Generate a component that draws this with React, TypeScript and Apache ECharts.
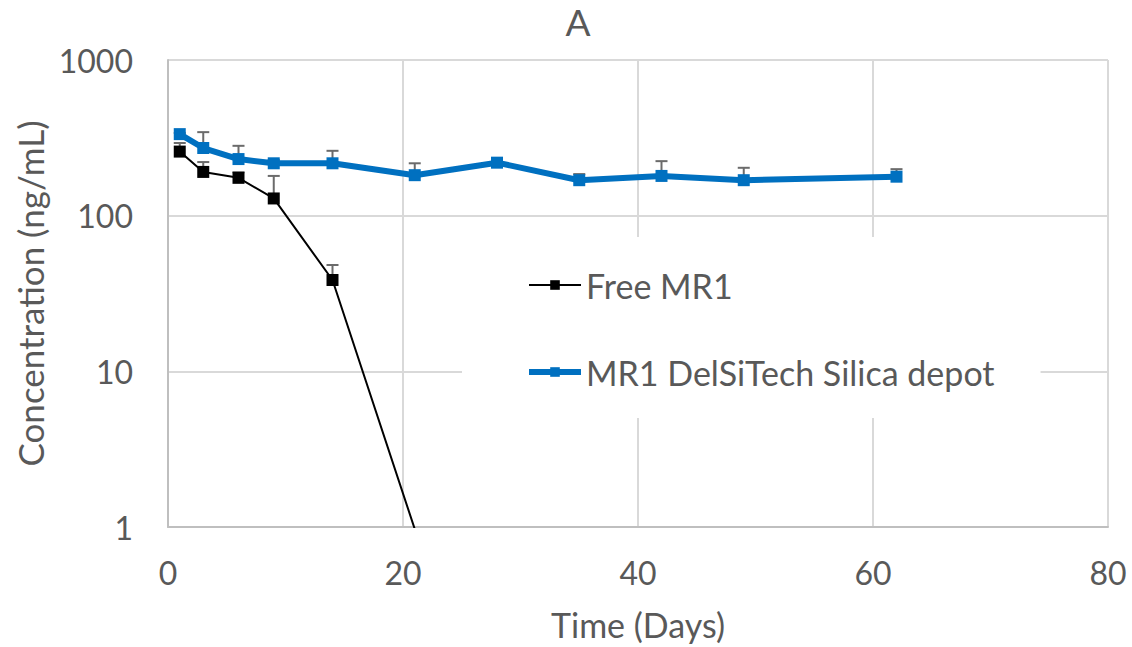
import React, { useEffect, useRef } from "react";
import * as echarts from "echarts";

const freeDays = [1, 3, 6, 9, 14, 21];
const freeValues = [258, 191, 175, 129, 38.6, 0.97];
const freeErrTop = [293, 221, 190, 180, 48.2, null];

const depotDays = [1, 3, 6, 9, 14, 21, 28, 35, 42, 49, 62];
const depotValues = [334, 272, 231, 217, 217, 182, 219, 169, 180, 169, 178];
const depotErrTop = [340, 344, 281, 228, 261, 217, 228, 185, 224, 203, 199];

const xTicks = [0, 20, 40, 60, 80];
const titleText = "A";
const xName = "Time (Days)";
const yName = "Concentration (ng/mL)";
const freeName = "Free MR1";
const depotName = "MR1 DelSiTech Silica depot";

const FONT = "Lato";
const TEXT = "#595959";

function errRender(params: any, api: any) {
  const x = api.value(0);
  const v = api.value(1);
  const top = api.value(2);
  if (top == null || isNaN(top)) return null;
  const p0 = api.coord([x, v]);
  const p1 = api.coord([x, top]);
  const hw = 6;
  const style = { stroke: "#6b6b6b", lineWidth: 2 };
  return {
    type: "group",
    children: [
      { type: "line", shape: { x1: p0[0], y1: p0[1], x2: p1[0], y2: p1[1] }, style },
      { type: "line", shape: { x1: p1[0] - hw, y1: p1[1], x2: p1[0] + hw, y2: p1[1] }, style },
    ],
  };
}

export default function App() {
  const ref = useRef<HTMLDivElement>(null);
  useEffect(() => {
    if (!ref.current) return;
    const chart = echarts.init(ref.current, null, { renderer: "svg" });
    const freeData = freeDays.map((d, i) => {
      const item: any = { value: [d, freeValues[i]] };
      if (freeValues[i] < 1) item.symbol = "none";
      return item;
    });
    const depotData = depotDays.map((d, i) => [d, depotValues[i]]);
    const freeErr = freeDays
      .map((d, i) => [d, freeValues[i], freeErrTop[i]])
      .filter((r) => r[2] != null);
    const depotErr = depotDays.map((d, i) => [d, depotValues[i], depotErrTop[i]]);

    chart.setOption({
      animation: false,
      backgroundColor: "#ffffff",
      graphic: [
        {
          type: "text",
          x: 578,
          y: 3,
          style: {
            text: titleText,
            textAlign: "center",
            textVerticalAlign: "top",
            fontSize: 37,
            fontFamily: FONT,
            fill: TEXT,
          },
        },
      ],
      grid: { left: 168, top: 60, right: 24, bottom: 120, containLabel: false },
      legend: {
        orient: "vertical",
        left: 462,
        top: 237,
        padding: [31, 46, 29, 64],
        backgroundColor: "#ffffff",
        itemWidth: 52,
        itemHeight: 12,
        itemGap: 53,
        lineStyle: { width: "inherit" },
        textStyle: { fontSize: 34, fontFamily: FONT, color: TEXT, lineHeight: 34 },
        data: [freeName, depotName],
      },
      xAxis: {
        type: "value",
        min: xTicks[0],
        max: xTicks[xTicks.length - 1],
        interval: 20,
        name: xName,
        nameLocation: "middle",
        nameGap: 80,
        nameTextStyle: { fontSize: 34, fontFamily: FONT, color: TEXT },
        axisLine: { show: true, lineStyle: { color: "#bfbfbf", width: 2 } },
        axisTick: { show: false },
        axisLabel: { fontSize: 32, fontFamily: FONT, color: TEXT, margin: 29 },
        splitLine: { show: true, lineStyle: { color: "#d9d9d9", width: 2 } },
      },
      yAxis: {
        type: "log",
        logBase: 10,
        min: 1,
        max: 1000,
        name: yName,
        nameLocation: "middle",
        nameGap: 118,
        nameTextStyle: { fontSize: 35, fontFamily: FONT, color: TEXT },
        axisLine: { show: true, lineStyle: { color: "#bfbfbf", width: 2 } },
        axisTick: { show: false },
        axisLabel: {
          fontSize: 32,
          fontFamily: FONT,
          color: TEXT,
          margin: 35,
          formatter: (v: number) => String(Math.round(v)),
        },
        splitLine: { show: true, lineStyle: { color: "#d9d9d9", width: 2 } },
      },
      series: [
        {
          name: freeName,
          type: "line",
          data: freeData,
          symbol: "rect",
          symbolSize: 12,
          clip: true,
          lineStyle: { color: "#000000", width: 2 },
          itemStyle: { color: "#000000" },
        },
        {
          name: "freeErr",
          type: "custom",
          renderItem: errRender,
          data: freeErr,
          encode: { x: 0, y: 1 },
          silent: true,
        },
        {
          name: "depotErr",
          type: "custom",
          renderItem: errRender,
          data: depotErr,
          encode: { x: 0, y: 1 },
          silent: true,
        },
        {
          name: depotName,
          type: "line",
          data: depotData,
          symbol: "rect",
          symbolSize: 12,
          clip: true,
          lineStyle: { color: "#0070c0", width: 6 },
          itemStyle: { color: "#0070c0" },
        },
      ],
    });
    return () => chart.dispose();
  }, []);
  return (
    <div
      ref={ref}
      style={{ position: "absolute", left: 0, top: 0, width: 1132, height: 647 }}
    />
  );
}
